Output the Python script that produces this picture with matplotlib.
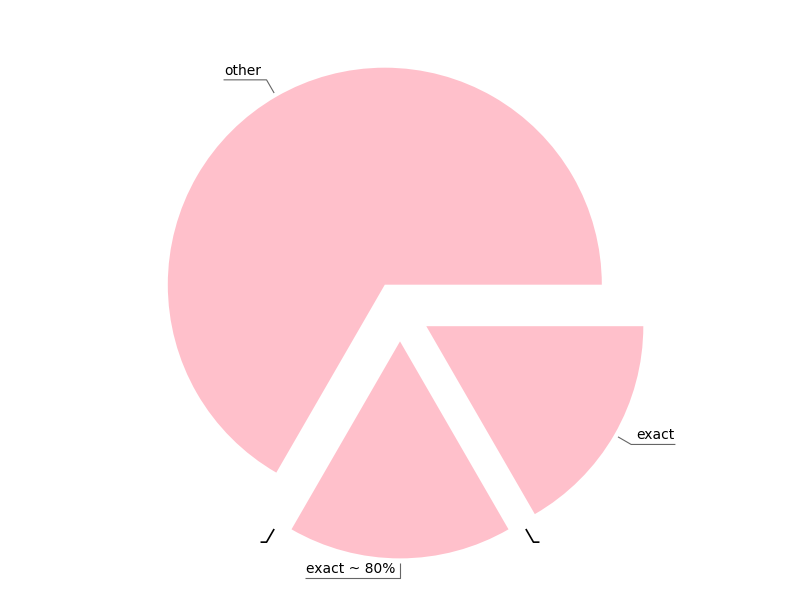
import numpy as np
import matplotlib.pyplot as plt

labels = ["other", "exact ~ 80%", "exact"]
sizes = [4, 1, 1]
explode = [0.14, 0.14, 0.14]

PX = 217.0  # pixels per data unit (pie radius)

fig = plt.figure(figsize=(8, 6), dpi=100)
ax = fig.add_axes([0, 0, 1, 1])
wedges, _ = ax.pie(sizes, explode=explode, colors=["pink"] * 3, startangle=0)
ax.set_xlim(-400 / PX, 400 / PX)
ax.set_ylim(-289 / PX, 311 / PX)
ax.set_aspect("auto")
ax.axis("off")

r0, r1 = 1.16, 1.23


def tag(angle, text, color, lw):
    a = np.deg2rad(angle)
    sx, sy = r0 * np.cos(a), r0 * np.sin(a)
    ex, ey = r1 * np.cos(a), r1 * np.sin(a)
    side = 1 if np.cos(a) > 1e-6 else -1
    w = 0
    if text:
        t = ax.text(ex + side * 5 / PX, ey + 2 / PX, text, fontsize=10,
                    ha="left" if side > 0 else "right", va="bottom")
        fig.canvas.draw()
        w = t.get_window_extent().width
    ax.plot([sx, ex, ex + side * (w + 6) / PX], [sy, ey, ey],
            color=color, lw=lw, solid_capstyle="butt")


# wedge labels at mid angles
for w, lab in zip(wedges, labels):
    mid = (w.theta1 + w.theta2) / 2
    tag(mid, lab, "#666666", 0.8)

# marks on the inner wedge boundaries
for w in wedges[1:]:
    tag(w.theta1, "", "black", 1.2)

fig.savefig("out.png", dpi=100)
